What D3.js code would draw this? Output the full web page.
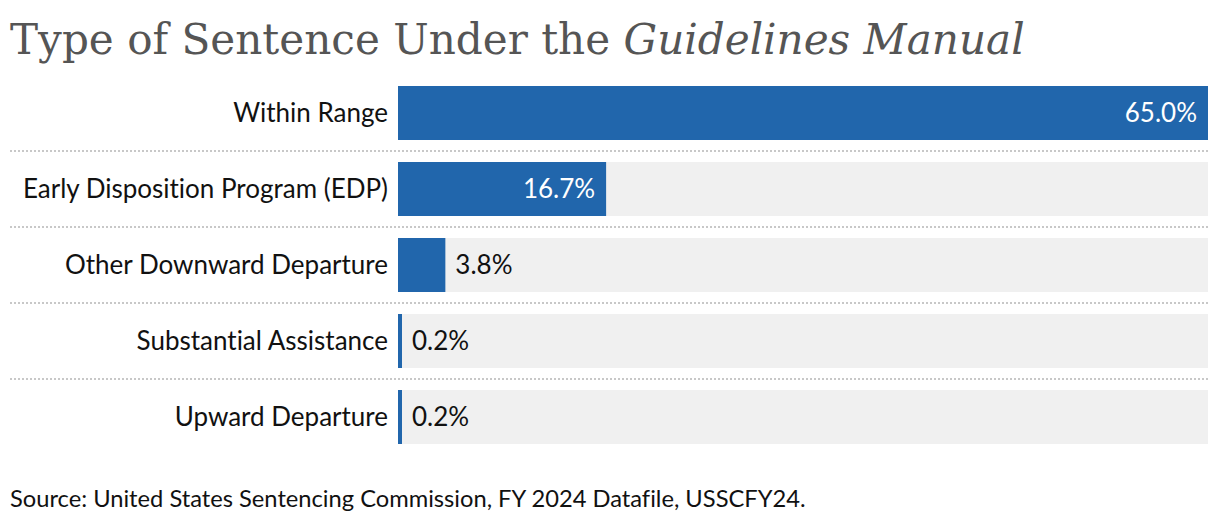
<!DOCTYPE html>
<html>
<head>
<meta charset="utf-8">
<script src="https://cdn.jsdelivr.net/npm/d3@7"></script>
<style>
  body { margin: 0; background: #fff; }
  text { font-family: Lato, sans-serif; font-variant-ligatures: none; font-feature-settings: "liga" 0, "clig" 0; }
</style>
</head>
<body>
<div class="canvas"></div>
<script>
const categories = ['Within Range', 'Early Disposition Program (EDP)', 'Other Downward Departure', 'Substantial Assistance', 'Upward Departure'];
const values = [65.0, 16.7, 3.8, 0.2, 0.2];
const source = 'Source: United States Sentencing Commission, FY 2024 Datafile, USSCFY24.';

const dims = { width: 1220, height: 524, left: 398, right: 1208, top: 86, rowStep: 76, barHeight: 54 };
const barColour = '#2166ac';

const svg = d3.select('.canvas')
    .append('svg')
    .attr('width', dims.width)
    .attr('height', dims.height);

// Title: serif, last two words italic
const title = svg.append('text')
    .attr('x', 10)
    .attr('y', 54)
    .attr('fill', '#555')
    .style('font-family', '"DejaVu Serif", serif')
    .style('font-size', '40px');
title.append('tspan').text('Type of Sentence Under the ');
title.append('tspan').style('font-style', 'italic').text('Guidelines Manual');

// fit title width to the reference (~1015px)
const tw = title.node().getComputedTextLength();
title.style('font-size', (40 * 1015 / tw) + 'px');

const x = d3.scaleLinear()
    .domain([0, d3.max(values)])
    .range([dims.left, dims.right]);

const n = categories.length;
const y = d3.scaleBand()
    .domain(categories)
    .range([dims.top, dims.top + dims.rowStep * (n - 1) + dims.barHeight])
    .paddingInner((dims.rowStep - dims.barHeight) / dims.rowStep)
    .paddingOuter(0)
    .align(0);

const data = categories.map((c, i) => ({ category: c, value: values[i] }));

const rows = svg.selectAll('.row')
    .data(data)
    .enter()
    .append('g')
    .attr('class', 'row')
    .attr('transform', d => `translate(0, ${y(d.category)})`);

// separators between rows
const gap = y.step() - y.bandwidth();
rows.filter((d, i) => i > 0)
    .append('line')
    .attr('x1', 10)
    .attr('x2', dims.right)
    .attr('y1', -gap / 2)
    .attr('y2', -gap / 2)
    .attr('stroke', '#c8c8c8')
    .attr('stroke-width', 2)
    .attr('stroke-dasharray', '2 2');

rows.append('rect')
    .attr('x', dims.left)
    .attr('width', dims.right - dims.left)
    .attr('height', y.bandwidth())
    .attr('fill', '#f0f0f0');

const barEnd = d => dims.left + Math.max(4, x(d.value) - dims.left);

rows.append('rect')
    .attr('x', dims.left)
    .attr('width', d => barEnd(d) - dims.left)
    .attr('height', y.bandwidth())
    .attr('fill', barColour);

rows.append('text')
    .attr('x', dims.left - 10)
    .attr('y', y.bandwidth() / 2)
    .attr('dy', '0.35em')
    .attr('text-anchor', 'end')
    .attr('fill', '#111')
    .style('font-size', '26px')
    .text(d => d.category);

const inside = d => barEnd(d) - dims.left > 120;

rows.append('text')
    .attr('x', d => inside(d) ? barEnd(d) - 11 : barEnd(d) + 10)
    .attr('y', y.bandwidth() / 2)
    .attr('dy', '0.35em')
    .attr('text-anchor', d => inside(d) ? 'end' : 'start')
    .attr('fill', d => inside(d) ? '#fff' : '#111')
    .style('font-size', '26px')
    .text(d => d.value.toFixed(1) + '%');

svg.append('text')
    .attr('x', 10)
    .attr('y', 507)
    .attr('fill', '#111')
    .style('font-size', '23.7px')
    .text(source);
</script>
</body>
</html>
